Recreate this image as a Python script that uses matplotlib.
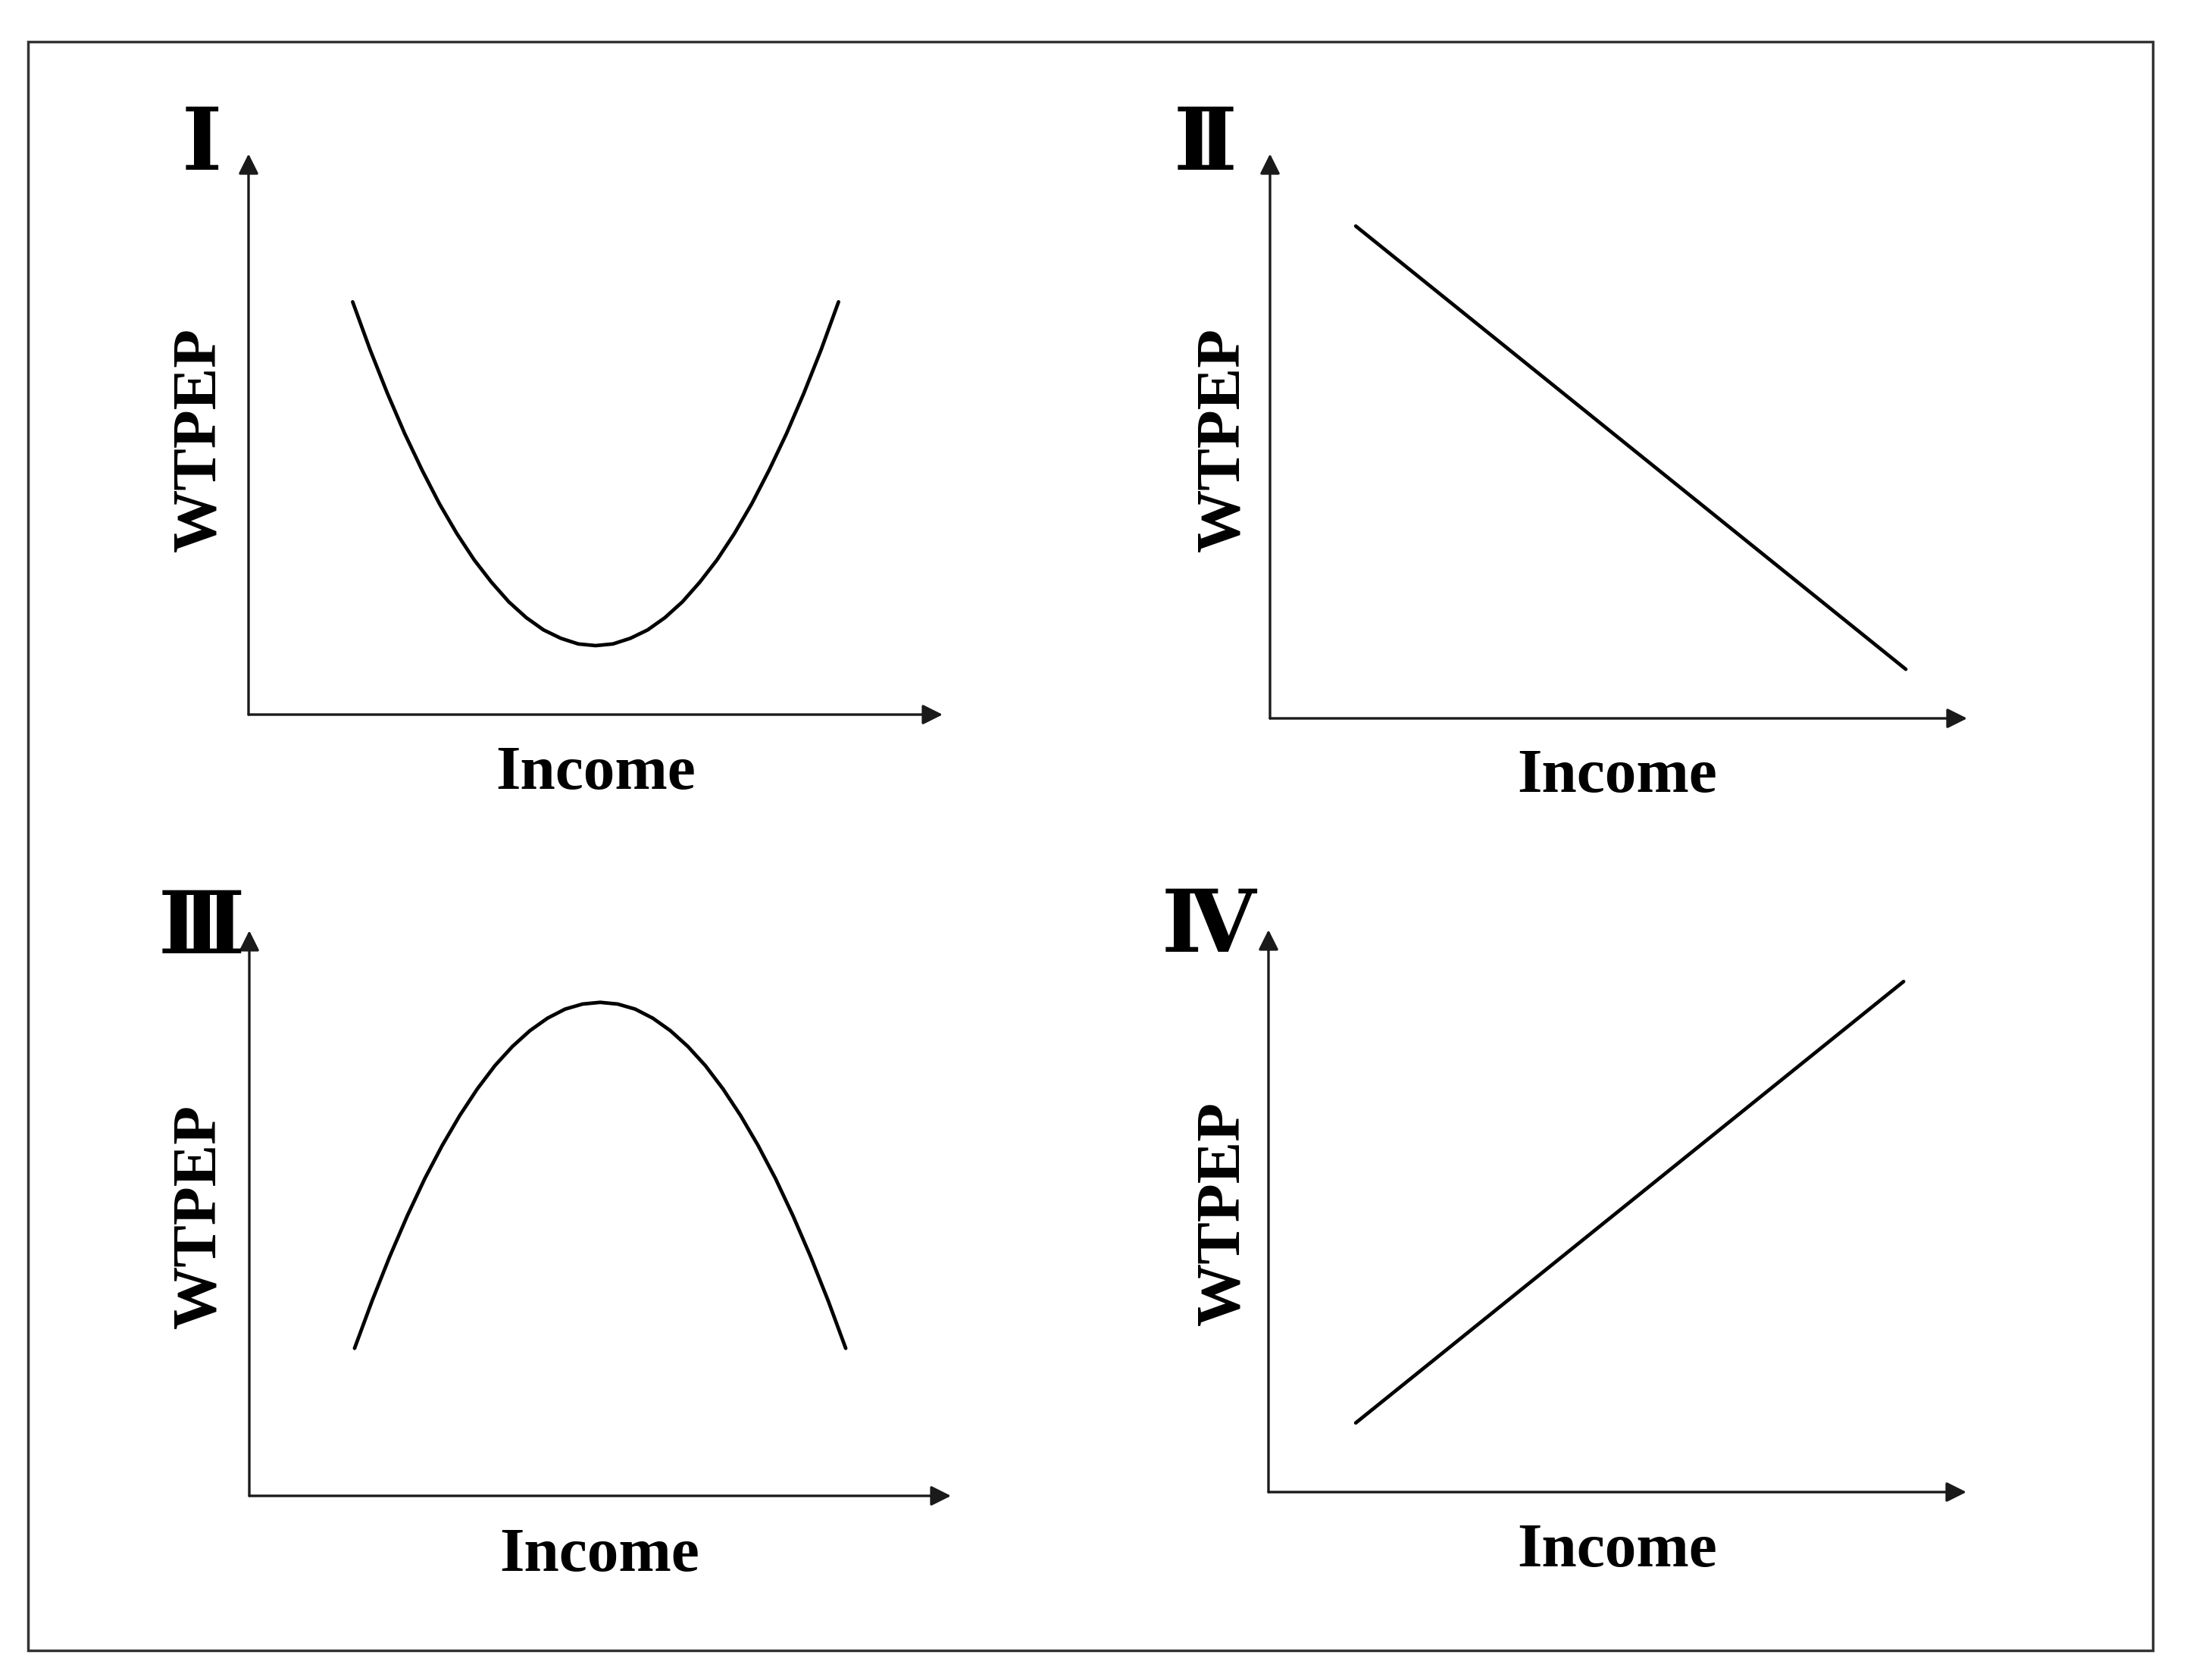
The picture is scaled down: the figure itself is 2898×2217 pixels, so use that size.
import matplotlib
matplotlib.use("Agg")
import matplotlib.pyplot as plt
from matplotlib.patches import Rectangle

# ============================================
# 1. DATA (axes 0-10)
# ============================================
panel_labels = ["Ⅰ", "Ⅱ", "Ⅲ", "Ⅳ"]
x_label = "Income"
y_label = "WTPEP"

# U-shaped curve (panel I)
u_income = [1.5, 1.75, 2.0, 2.25, 2.5, 2.75, 3.0, 3.25, 3.5, 3.75, 4.0, 4.25, 4.5, 4.75, 5.0,
            5.25, 5.5, 5.75, 6.0, 6.25, 6.5, 6.75, 7.0, 7.25, 7.5, 7.75, 8.0, 8.25, 8.5]
u_wtpep = [7.36, 6.51, 5.73, 5.01, 4.36, 3.76, 3.23, 2.76, 2.36, 2.01, 1.73, 1.51, 1.36, 1.26, 1.23,
           1.26, 1.36, 1.51, 1.73, 2.01, 2.36, 2.76, 3.23, 3.76, 4.36, 5.01, 5.73, 6.51, 7.36]

# falling line (panel II)
down_income = [1.23, 9.12]
down_wtpep = [8.72, 0.87]

# inverted U (panel III)
n_income = [1.5, 1.75, 2.0, 2.25, 2.5, 2.75, 3.0, 3.25, 3.5, 3.75, 4.0, 4.25, 4.5, 4.75, 5.0,
            5.25, 5.5, 5.75, 6.0, 6.25, 6.5, 6.75, 7.0, 7.25, 7.5, 7.75, 8.0, 8.25, 8.5]
n_wtpep = [2.61, 3.45, 4.23, 4.95, 5.61, 6.20, 6.73, 7.20, 7.61, 7.95, 8.23, 8.45, 8.61, 8.70, 8.73,
           8.70, 8.61, 8.45, 8.23, 7.95, 7.61, 7.20, 6.73, 6.20, 5.61, 4.95, 4.23, 3.45, 2.61]

# rising line (panel IV)
up_income = [1.25, 9.10]
up_wtpep = [1.23, 9.08]

# ============================================
# 2. FIGURE
# ============================================
W, H = 2898, 2217
fig = plt.figure(figsize=(W / 100, H / 100), dpi=100)


def px(x, y):
    return x / W, 1 - y / H


# frame around everything
fig.patches.append(Rectangle(px(37, 2178), (2841 - 37) / W, (2178 - 55) / H,
                             transform=fig.transFigure, fill=False,
                             edgecolor="#333333", linewidth=2.5))

# (origin x, origin y, x arrow tip, y arrow tip) in pixels
boxes = [(328, 943, 1244, 203),
         (1676, 948, 2596, 203),
         (329, 1974, 1255, 1228),
         (1674, 1969, 2595, 1227)]
curves = [(u_income, u_wtpep), (down_income, down_wtpep),
          (n_income, n_wtpep), (up_income, up_wtpep)]
income_pos = [(786, 1021), (2134, 1026), (791, 2054), (2134, 2048)]
wtpep_pos = [(264, 580), (1615, 580), (264, 1605), (1615, 1601)]
numeral_pos = [(266, 193), (1591, 193), (266, 1226), (1595, 1225)]

font = dict(family="Liberation Serif", weight="bold", size=60)

for i in range(4):
    x0, y0, xt, yt = boxes[i]
    l, b = px(x0, y0)
    ax = fig.add_axes([l, b, (xt - x0) / W, (y0 - yt) / H])
    ax.set_xlim(0, 10)
    ax.set_ylim(0, 10)
    ax.axis("off")

    arrow = dict(arrowstyle="-|>,head_length=0.4,head_width=0.2", mutation_scale=40,
                 color="#1a1a1a", lw=2.4, shrinkA=0, shrinkB=0)
    ax.annotate("", xy=(10, 0), xytext=(0, 0), arrowprops=arrow, annotation_clip=False)
    ax.annotate("", xy=(0, 10), xytext=(0, 0), arrowprops=arrow, annotation_clip=False)

    cx, cy = curves[i]
    ax.plot(cx, cy, color="black", lw=3.4, solid_capstyle="round", clip_on=False)

    fig.text(*px(*income_pos[i]), x_label, ha="center", va="center", **font)
    fig.text(*px(*wtpep_pos[i]), y_label, ha="center", va="center", rotation=90, **font)
    fig.text(*px(*numeral_pos[i]), panel_labels[i], ha="center", va="center",
             family=["DejaVu Serif", "Noto Sans CJK JP"], weight="bold", size=82)

plt.savefig("out.png", dpi=100)
